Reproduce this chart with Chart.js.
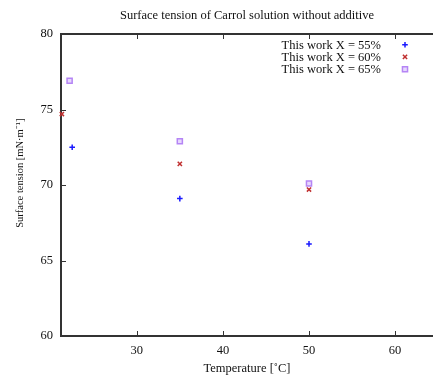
<!DOCTYPE html>
<html>
<head>
<meta charset="utf-8">
<script src="https://cdn.jsdelivr.net/npm/chart.js@4/dist/chart.umd.min.js"></script>
<style>
html,body{margin:0;padding:0;background:#fff;}
#wrap{width:433px;height:378px;position:relative;}
</style>
</head>
<body>
<div id="wrap"><canvas id="c" width="433" height="378"></canvas></div>
<script>
// Data
const seriesLabels = ['This work X = 55%', 'This work X = 60%', 'This work X = 65%'];
const temp55 = [22.5, 35, 50];
const tension55 = [72.5, 69.1, 66.1];
const temp60 = [21.3, 35, 50];
const tension60 = [74.7, 71.4, 69.7];
const temp65 = [22.2, 35, 50];
const tension65 = [76.9, 72.9, 70.1];
const xTicks = [30, 40, 50, 60];
const yTicks = [60, 65, 70, 75, 80];

const FONT = 'Liberation Serif';
const toPts = (xs, ys) => xs.map((x, i) => ({x: x, y: ys[i]}));
const frameColor = '#333333';
const legendRows = [44.7, 56.8, 69.2];

const framePlugin = {
  id: 'frame',
  afterDatasetsDraw(chart) {
    const ctx = chart.ctx;
    const a = chart.chartArea;
    const xs = chart.scales.x, ys = chart.scales.y;
    ctx.save();
    ctx.strokeStyle = frameColor;
    ctx.lineWidth = 1;
    xTicks.forEach(v => {
      const px = Math.round(xs.getPixelForValue(v)) + 0.5;
      ctx.beginPath();
      ctx.moveTo(px, a.bottom); ctx.lineTo(px, a.bottom - 5);
      ctx.moveTo(px, a.top); ctx.lineTo(px, a.top + 5);
      ctx.stroke();
    });
    yTicks.forEach(v => {
      const py = Math.round(ys.getPixelForValue(v)) + 0.5;
      ctx.beginPath();
      ctx.moveTo(a.left, py); ctx.lineTo(a.left + 5, py);
      ctx.stroke();
    });
    // legend
    ctx.font = '12.5px "' + FONT + '"';
    ctx.textAlign = 'right';
    ctx.textBaseline = 'middle';
    chart.data.datasets.forEach((ds, i) => {
      ctx.fillStyle = '#111';
      ctx.fillText(ds.label, 381, legendRows[i] + 1);
      const o = chart.getDatasetMeta(i).data[0].options;
      ctx.save();
      ctx.strokeStyle = o.borderColor;
      ctx.fillStyle = o.backgroundColor;
      ctx.lineWidth = o.borderWidth;
      Chart.helpers.drawPoint(ctx, {
        pointStyle: o.pointStyle, radius: o.radius, borderWidth: o.borderWidth, rotation: 0
      }, 405, legendRows[i]);
      ctx.restore();
    });
    ctx.restore();
  }
};

new Chart(document.getElementById('c'), {
  type: 'scatter',
  data: {
    datasets: [
      {label: seriesLabels[0], data: toPts(temp55, tension55), pointStyle: 'cross',
       borderColor: '#1a1aff', backgroundColor: '#1a1aff', pointRadius: 2.8, borderWidth: 1.5, clip: false},
      {label: seriesLabels[1], data: toPts(temp60, tension60), pointStyle: 'crossRot',
       borderColor: '#c03030', backgroundColor: '#c03030', pointRadius: 3, borderWidth: 1.5, clip: false},
      {label: seriesLabels[2], data: toPts(temp65, tension65), pointStyle: 'rect',
       borderColor: '#b585f5', backgroundColor: 'rgba(215,190,252,0.6)', pointRadius: 3.6, borderWidth: 1.5, clip: false}
    ]
  },
  options: {
    responsive: false,
    animation: false,
    devicePixelRatio: 1,
    layout: {padding: 0, autoPadding: false},
    plugins: {
      legend: {display: false},
      tooltip: {enabled: false},
      title: {display: false}
    },
    scales: {
      x: {
        type: 'linear',
        position: 'bottom',
        min: 21.2, max: 64.4,
        afterFit: s => { s.height = 42; s.paddingRight = 0; s.paddingLeft = 0; },
        afterBuildTicks: s => { s.ticks = xTicks.map(v => ({value: v})); },
        ticks: {color: '#111', font: {family: FONT, size: 12.5}, padding: 7, includeBounds: false, maxRotation: 0},
        grid: {display: false, drawTicks: false},
        border: {color: frameColor, width: 2},
        title: {display: true, text: 'Temperature [˚C]', color: '#111',
          font: {family: FONT, size: 12.5}, padding: {top: 0, bottom: 2}}
      },
      x2: {
        type: 'linear',
        position: 'top',
        min: 21.2, max: 64.4,
        afterFit: s => { s.height = 34; s.paddingRight = 0; s.paddingLeft = 0; },
        ticks: {display: false},
        grid: {display: false, drawTicks: false},
        border: {color: frameColor, width: 2},
        title: {display: true, text: 'Surface tension of Carrol solution without additive', color: '#111',
          font: {family: FONT, size: 12.5}, padding: {top: 8, bottom: 0}}
      },
      y: {
        type: 'linear',
        min: 60, max: 80,
        afterFit: s => { s.width = 61; },
        afterBuildTicks: s => { s.ticks = yTicks.map(v => ({value: v})); },
        ticks: {color: '#111', font: {family: FONT, size: 12.5}, padding: 8},
        grid: {display: false, drawTicks: false},
        border: {color: frameColor, width: 2},
        title: {display: true, text: '         Surface tension [mN·m⁻¹]', color: '#111',
          font: {family: FONT, size: 10.5}, padding: {top: 14, bottom: 0}}
      }
    }
  },
  plugins: [framePlugin]
});
</script>
</body>
</html>
